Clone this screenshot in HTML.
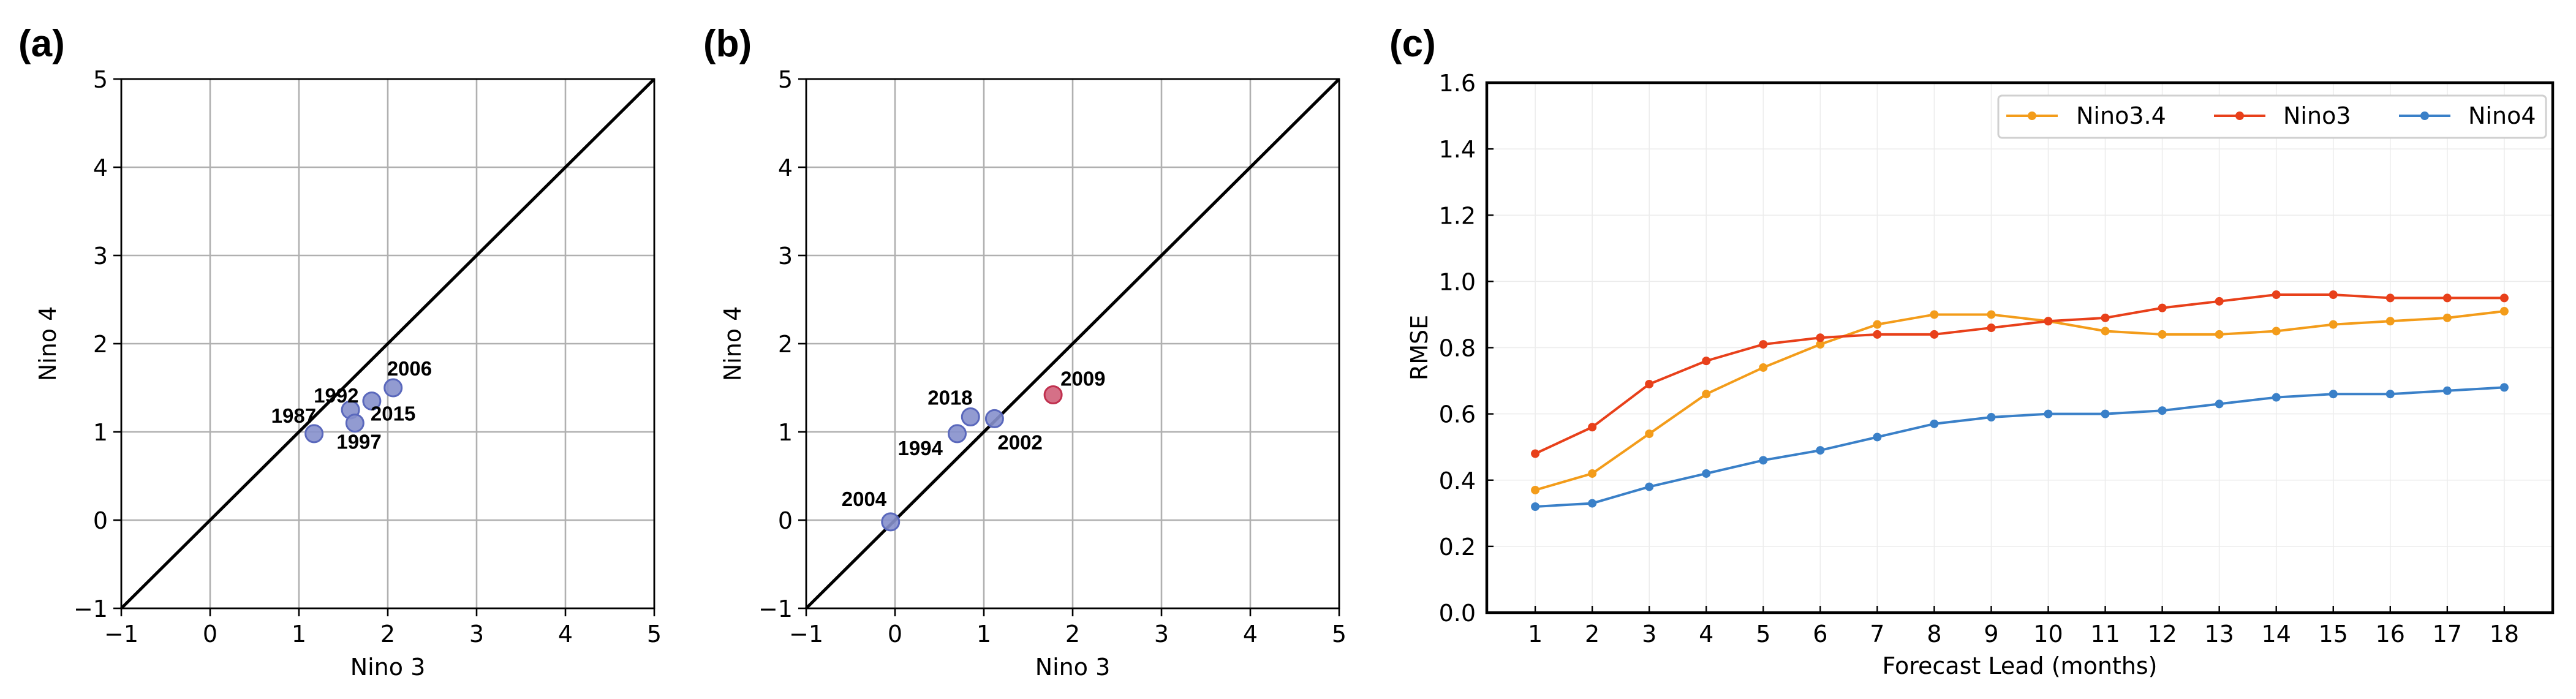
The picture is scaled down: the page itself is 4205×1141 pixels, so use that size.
<!DOCTYPE html>
<html><head><meta charset="utf-8">
<style>
html,body{margin:0;padding:0;background:#fff;}
svg{display:block;font-family:"DejaVu Sans","Liberation Sans",sans-serif;}
.tk{font-size:38px;fill:#000;}
.yr{font-family:"Liberation Sans",Arial,sans-serif;font-weight:bold;font-size:33px;fill:#000;}
.pl{font-family:"Liberation Sans",Arial,sans-serif;font-weight:bold;font-size:62px;fill:#000;}
</style></head>
<body>
<svg id="fig" width="4205" height="1141" viewBox="0 0 4205 1141" xmlns="http://www.w3.org/2000/svg">
</svg>
<script>
const NS="http://www.w3.org/2000/svg";
const svg=document.getElementById('fig');
function mk(tag,attrs,parent,text){const e=document.createElementNS(NS,tag);for(const k in attrs)e.setAttribute(k,attrs[k]);if(text!==undefined)e.textContent=text;(parent||svg).appendChild(e);return e;}

// ---- Panel (a) data ----
const aYears=["1987","1992","1997","2015","2006"];
const aNino3=[1.17,1.58,1.63,1.82,2.06];
const aNino4=[0.98,1.25,1.10,1.35,1.50];
const aLabelDx=[-70,-60,-30,-2,-10];
const aLabelDy=[-18,-12,42,32,-20];
// ---- Panel (b) data ----
const bYears=["2004","1994","2018","2002","2009"];
const bNino3=[-0.05,0.70,0.85,1.12,1.78];
const bNino4=[-0.02,0.98,1.17,1.15,1.42];
const bRed=[false,false,false,false,true];
const bLabelDx=[-80,-97,-70,5,12];
const bLabelDy=[-26,35,-20,50,-15];
const scatTicks=[-1,0,1,2,3,4,5];
// ---- Panel (c) data ----
const leads=[1,2,3,4,5,6,7,8,9,10,11,12,13,14,15,16,17,18];
const nino34=[0.37,0.42,0.54,0.66,0.74,0.81,0.87,0.90,0.90,0.88,0.85,0.84,0.84,0.85,0.87,0.88,0.89,0.91];
const nino3=[0.48,0.56,0.69,0.76,0.81,0.83,0.84,0.84,0.86,0.88,0.89,0.92,0.94,0.96,0.96,0.95,0.95,0.95];
const nino4=[0.32,0.33,0.38,0.42,0.46,0.49,0.53,0.57,0.59,0.60,0.60,0.61,0.63,0.65,0.66,0.66,0.67,0.68];
const rmseTicks=[0.0,0.2,0.4,0.6,0.8,1.0,1.2,1.4,1.6];

function scatterPanel(L,name,years,xs,ys,dxs,dys,reds,letter){
  const T=129,B=993,R=L+870;
  const sx=v=>L+(v+1)/6*(R-L), sy=v=>B-(v+1)/6*(B-T);
  const g=mk('g',{});
  
  
  const lab=mk('text',{x:L-168,y:92,class:'pl'},g,'('+letter+')');
  
  
  scatTicks.forEach(t=>{
    mk('line',{x1:sx(t),x2:sx(t),y1:T,y2:B,stroke:'#b0b0b0','stroke-width':2.6},g);
    mk('line',{x1:L,x2:R,y1:sy(t),y2:sy(t),stroke:'#b0b0b0','stroke-width':2.6},g);
    mk('line',{x1:sx(t),x2:sx(t),y1:B,y2:B+13,stroke:'#000','stroke-width':2.6},g);
    mk('line',{x1:L-13,x2:L,y1:sy(t),y2:sy(t),stroke:'#000','stroke-width':2.6},g);
    const lbl=t<0?'\u22121':String(t);
    const xt=mk('text',{x:sx(t),y:B+55,class:'tk','text-anchor':'middle'},g,lbl);
    
    
    const yt=mk('text',{x:L-22,y:sy(t)+14,class:'tk','text-anchor':'end'},g,lbl);
    
    
  });
  mk('line',{x1:sx(-1),y1:sy(-1),x2:sx(5),y2:sy(5),stroke:'#000','stroke-width':5},g);
  mk('rect',{x:L,y:T,width:R-L,height:B-T,fill:'none',stroke:'#000','stroke-width':2.8},g);
  years.forEach((yr,i)=>{
    const red=reds&&reds[i];
    const c=mk('circle',{cx:sx(xs[i]),cy:sy(ys[i]),r:14,fill:red?'#d0607a':'#8690cc',stroke:red?'#c0304e':'#5a68bc','stroke-width':3,'fill-opacity':0.9},g);
    
    
    const t=mk('text',{x:sx(xs[i])+dxs[i],y:sy(ys[i])+dys[i],class:'yr'},g,yr);
    
    
  });
  const xl=mk('text',{x:(L+R)/2,y:1102,class:'tk','text-anchor':'middle'},g,'Nino 3');
  
  
  const yl=mk('text',{x:0,y:0,class:'tk','text-anchor':'middle',transform:`translate(${L-107},${(T+B)/2}) rotate(-90)`},g,'Nino 4');
  
  
}
scatterPanel(198,'panel-a-scatter',aYears,aNino3,aNino4,aLabelDx,aLabelDy,null,'a');
scatterPanel(1316,'panel-b-scatter',bYears,bNino3,bNino4,bLabelDx,bLabelDy,bRed,'b');

// ---- Panel (c) ----
(function(){
  const L=2427,R=4167,T=135,B=1000;
  const sx=v=>L+(v-0.15)/(18.85-0.15)*(R-L), sy=v=>B-v/1.6*(B-T);
  const g=mk('g',{});
  
  
  const lab=mk('text',{x:2268,y:92,class:'pl'},g,'(c)');
  
  
  leads.forEach(t=>{
    mk('line',{x1:sx(t),x2:sx(t),y1:T,y2:B,stroke:'#ececec','stroke-width':1.6},g);
    mk('line',{x1:sx(t),x2:sx(t),y1:B,y2:B-11,stroke:'#000','stroke-width':2.4},g);
    const xt=mk('text',{x:sx(t),y:B+48,class:'tk','text-anchor':'middle'},g,String(t));
    
    
  });
  rmseTicks.forEach(t=>{
    mk('line',{x1:L,x2:R,y1:sy(t),y2:sy(t),stroke:'#ececec','stroke-width':1.6},g);
    mk('line',{x1:L,x2:L+11,y1:sy(t),y2:sy(t),stroke:'#000','stroke-width':2.4},g);
    const yt=mk('text',{x:L-18,y:sy(t)+14,class:'tk','text-anchor':'end'},g,t.toFixed(1));
    
    
  });
  mk('rect',{x:L,y:T,width:R-L,height:B-T,fill:'none',stroke:'#000','stroke-width':4.5},g);
  const series=[[nino34,'#f39c1a','nino3.4'],[nino3,'#e8401a','nino3'],[nino4,'#3a80c8','nino4']];
  series.forEach(([vals,col,nm])=>{
    const pts=vals.map((v,i)=>sx(leads[i])+','+sy(v)).join(' ');
    const pl=mk('polyline',{points:pts,fill:'none',stroke:col,'stroke-width':4},g);
    
    
    vals.forEach((v,i)=>{
      const c=mk('circle',{cx:sx(leads[i]),cy:sy(v),r:7,fill:col},g);
      
      
    });
  });
  const lg=mk('g',{},g);
  
  
  mk('rect',{x:3262,y:156,width:894,height:69,rx:6,fill:'#fff',stroke:'#d0d0d0','stroke-width':3},lg);
  const ent=[[3275,3389,'#f39c1a','Nino3.4'],[3614,3727,'#e8401a','Nino3'],[3916,4029,'#3a80c8','Nino4']];
  ent.forEach(([lx,tx,col,txt])=>{
    const e=mk('g',{},lg);
    
    
    mk('line',{x1:lx,x2:lx+84,y1:189,y2:189,stroke:col,'stroke-width':4},e);
    mk('circle',{cx:lx+42,cy:189,r:7,fill:col},e);
    mk('text',{x:tx,y:202,class:'tk'},e,txt);
  });
  const xl=mk('text',{x:(L+R)/2,y:1100,class:'tk','text-anchor':'middle'},g,'Forecast Lead (months)');
  
  
  const yl=mk('text',{x:0,y:0,class:'tk','text-anchor':'middle',transform:`translate(2330,${(T+B)/2}) rotate(-90)`},g,'RMSE');
  
  
})();
</script>
</body></html>
